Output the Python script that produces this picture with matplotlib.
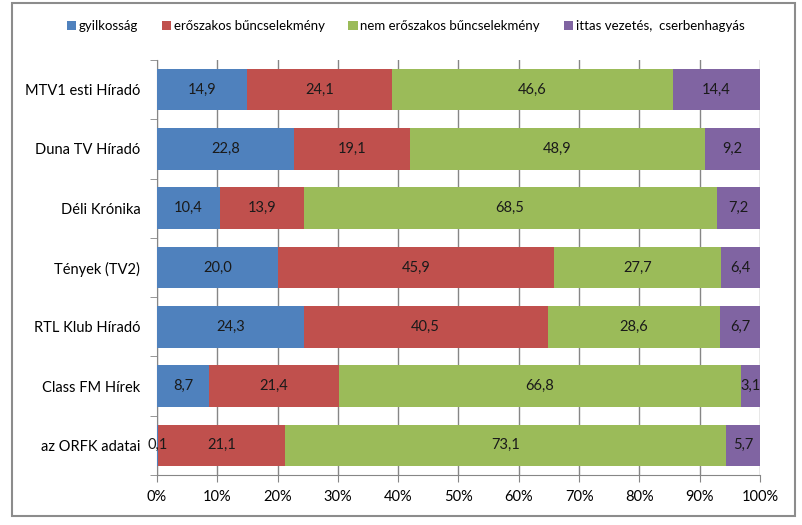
import numpy as np
import matplotlib.pyplot as plt
from matplotlib.patches import Rectangle

plt.rcParams['font.family'] = ['Lato', 'DejaVu Sans']

categories = ['MTV1 esti Híradó', 'Duna TV Híradó', 'Déli Krónika', 'Tények (TV2)',
              'RTL Klub Híradó', 'Class FM Hírek', 'az ORFK adatai']
series = ['gyilkosság', 'erőszakos bűncselekmény', 'nem erőszakos bűncselekmény',
          'ittas vezetés,  cserbenhagyás']
gyilkossag = [14.9, 22.8, 10.4, 20.0, 24.3, 8.7, 0.1]
eroszakos = [24.1, 19.1, 13.9, 45.9, 40.5, 21.4, 21.1]
nem_eroszakos = [46.6, 48.9, 68.5, 27.7, 28.6, 66.8, 73.1]
ittas = [14.4, 9.2, 7.2, 6.4, 6.7, 3.1, 5.7]
colors = ['#4F81BD', '#C0504D', '#9BBB59', '#8064A2']

fig = plt.figure(figsize=(8.03, 5.25), dpi=100)
ax = fig.add_axes([157/803, 1-475/525, 603/803, 415/525])

# frame around the chart
fig.patches.append(Rectangle((12/803, 1-516/525), 783/803, 513/525, transform=fig.transFigure,
                             fill=False, edgecolor='#8c8c8c', linewidth=1.5))

y = np.arange(len(categories))
left = np.zeros(len(categories))
for vals, name, c in zip([gyilkossag, eroszakos, nem_eroszakos, ittas], series, colors):
    vals = np.array(vals)
    bars = ax.barh(y, vals, left=left, height=0.7, color=c, label=name, zorder=3)
    for yi, l, v in zip(y, left, vals):
        ax.text(l + v/2, yi, f'{v:.1f}'.replace('.', ','), ha='center', va='center',
                fontsize=10.5, color='#1a1a1a', zorder=4)
    left += vals

ax.set_xlim(0, 100)
ax.set_ylim(6.5, -0.5)
ax.set_xticks(np.arange(0, 101, 10))
ax.set_xticklabels([f'{t}%' for t in range(0, 101, 10)], fontsize=10.5)
ax.set_yticks(y)
ax.set_yticklabels(categories, fontsize=10.5)
ax.set_yticks(np.arange(-0.5, 7, 1), minor=True)
ax.tick_params(axis='y', which='major', length=0, pad=12)
ax.tick_params(axis='y', which='minor', length=5, color='#868686')
ax.tick_params(axis='x', length=5, color='#868686', pad=6)
ax.grid(axis='x', color='#868686', linewidth=1, zorder=0)
for s in ['top', 'right']:
    ax.spines[s].set_visible(False)
for s in ['left', 'bottom']:
    ax.spines[s].set_color('#868686')

fig.legend(loc='center', bbox_to_anchor=(0.505, 1-26/525), ncol=4, frameon=False,
           fontsize=9.5, handlelength=0.7, handleheight=0.7, handletextpad=0.2,
           columnspacing=1.8)

fig.savefig('out.png', dpi=100)
